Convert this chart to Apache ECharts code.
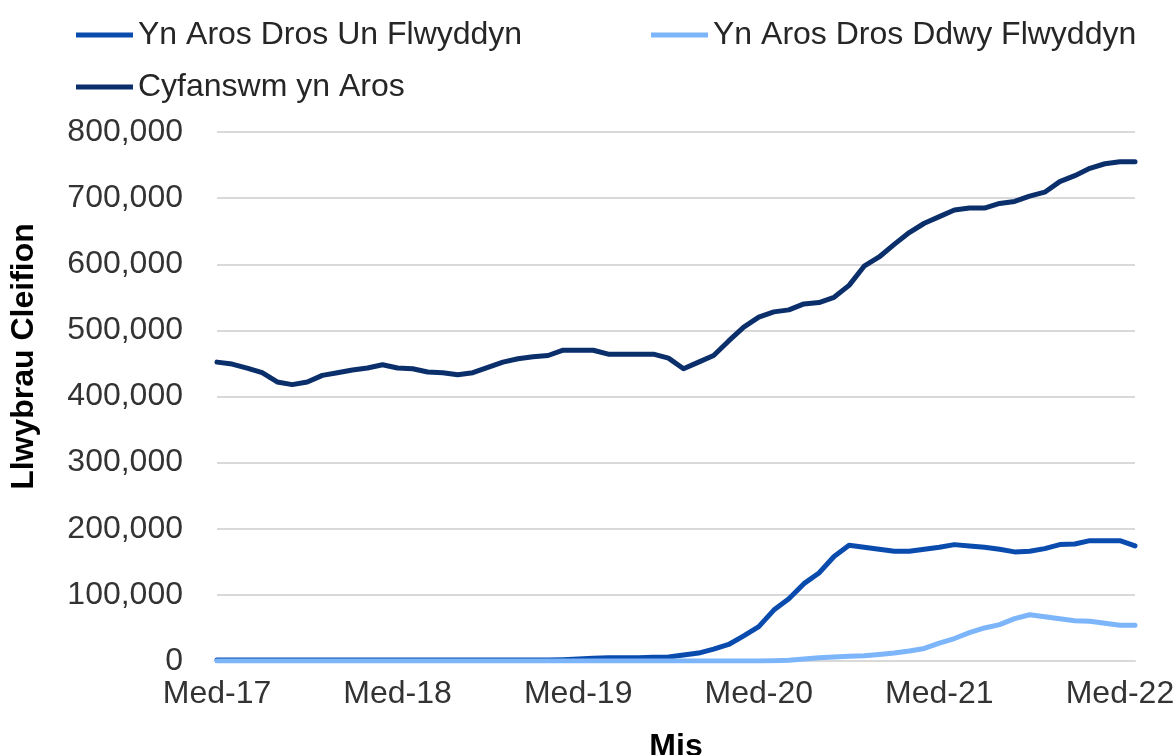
<!DOCTYPE html>
<html>
<head>
<meta charset="utf-8">
<script src="https://cdn.jsdelivr.net/npm/echarts@6/dist/echarts.min.js"></script>
<style>
  html, body { margin: 0; padding: 0; background: #fff; }
  #chart { width: 1175px; height: 755px; }
</style>
</head>
<body>
<div id="chart"></div>
<script>
// Welsh month abbreviations, series runs Medi 2017 -> Hydref 2022
const monthNames = ['Ion', 'Chwe', 'Maw', 'Ebr', 'Mai', 'Meh', 'Gor', 'Awst', 'Med', 'Hyd', 'Tach', 'Rhag']
const categories = []
for (let i = 0; i < 62; i++) {
  const m = (8 + i) % 12
  const y = 17 + Math.floor((8 + i) / 12)
  categories.push(monthNames[m] + '-' + y)
}

const yTicks = [0, 100000, 200000, 300000, 400000, 500000, 600000, 700000, 800000]

const overOneYear = [
  1500, 1500, 1500, 1500, 1500, 1500, 1500, 1500, 1500, 1500,
  1500, 1500, 1500, 1500, 1500, 1500, 1500, 1500, 1500, 1500,
  1500, 1500, 1500, 2000, 3000, 4000, 5000, 5000, 5000, 5500,
  6000, 9000, 12000, 18000, 25000, 38000, 52000, 77000, 94000, 117000,
  133000, 158000, 175000, 172000, 169000, 166000, 166000, 169000, 172000, 176000,
  174000, 172000, 169000, 165000, 166000, 170000, 176000, 177000, 182000, 182000,
  182000, 174000
]

const overTwoYears = [
  0, 0, 0, 0, 0, 0, 0, 0, 0, 0,
  0, 0, 0, 0, 0, 0, 0, 0, 0, 0,
  0, 0, 0, 0, 0, 0, 0, 0, 0, 0,
  0, 0, 0, 0, 0, 0, 0, 500, 1000, 3000,
  5000, 6000, 7000, 8000, 10000, 12000, 15000, 19000, 27000, 34000,
  43000, 50000, 55000, 64000, 70000, 67000, 64000, 61000, 60000, 57000,
  54000, 54000
]

const totalWaiting = [
  452000, 449000, 443000, 436000, 422000, 418000, 422000, 432000, 436000, 440000,
  443000, 448000, 443000, 442000, 437000, 436000, 433000, 436000, 444000, 452000,
  457000, 460000, 462000, 470000, 470000, 470000, 464000, 464000, 464000, 464000,
  458000, 442000, 452000, 462000, 484000, 505000, 520000, 528000, 531000, 540000,
  542000, 550000, 568000, 597000, 611000, 630000, 648000, 662000, 672000, 682000,
  685000, 685000, 692000, 695000, 703000, 709000, 725000, 734000, 745000, 752000,
  755000, 755000
]

const font = 'Liberation Sans, Arial, sans-serif'
const textColor = '#333'

const chart = echarts.init(document.getElementById('chart'))

const legendBase = {
  icon: 'rect',
  itemWidth: 57,
  itemHeight: 5,
  textStyle: { fontFamily: font, fontSize: 32, color: '#262626', lineHeight: 32 }
}

chart.setOption({
  animation: false,
  color: ['#0a4cad', '#7db5fb', '#0b2f6b'],
  legend: [
    Object.assign({}, legendBase, { left: 71, top: 14, data: ['Yn Aros Dros Un Flwyddyn'] }),
    Object.assign({}, legendBase, { left: 646, top: 14, data: ['Yn Aros Dros Ddwy Flwyddyn'] }),
    Object.assign({}, legendBase, { left: 71, top: 66, data: ['Cyfanswm yn Aros'] })
  ],
  grid: {
    left: 217,
    right: 40,
    top: 132,
    bottom: 94,
    outerBoundsMode: 'none'
  },
  xAxis: {
    type: 'category',
    data: categories,
    boundaryGap: false,
    name: 'Mis',
    nameLocation: 'middle',
    nameGap: 70,
    nameTextStyle: { fontFamily: font, fontSize: 32, fontWeight: 'bold', color: '#000' },
    axisLine: { lineStyle: { color: '#d9d9d9', width: 2 } },
    axisTick: { show: false },
    axisLabel: {
      interval: 11,
      margin: 17,
      fontFamily: font,
      fontSize: 32,
      color: textColor
    }
  },
  yAxis: {
    type: 'value',
    min: yTicks[0],
    max: yTicks[yTicks.length - 1],
    interval: 100000,
    name: 'Llwybrau Cleifion',
    nameLocation: 'middle',
    nameGap: 177,
    nameTextStyle: {
      fontFamily: font,
      fontSize: 32,
      fontWeight: 'bold',
      color: '#000',
      padding: [0, 0, 0, 80]
    },
    axisLine: { show: false },
    axisTick: { show: false },
    splitLine: { lineStyle: { color: '#d9d9d9', width: 2 } },
    axisLabel: {
      margin: 34,
      fontFamily: font,
      fontSize: 32,
      color: textColor,
      formatter: v => v.toLocaleString('en-US')
    }
  },
  series: [
    {
      name: 'Yn Aros Dros Un Flwyddyn',
      type: 'line',
      data: overOneYear,
      showSymbol: false,
      lineStyle: { width: 5, cap: 'round', join: 'round' }
    },
    {
      name: 'Yn Aros Dros Ddwy Flwyddyn',
      type: 'line',
      data: overTwoYears,
      showSymbol: false,
      lineStyle: { width: 5, cap: 'round', join: 'round' }
    },
    {
      name: 'Cyfanswm yn Aros',
      type: 'line',
      data: totalWaiting,
      showSymbol: false,
      lineStyle: { width: 5, cap: 'round', join: 'round' }
    }
  ]
})
</script>
</body>
</html>
